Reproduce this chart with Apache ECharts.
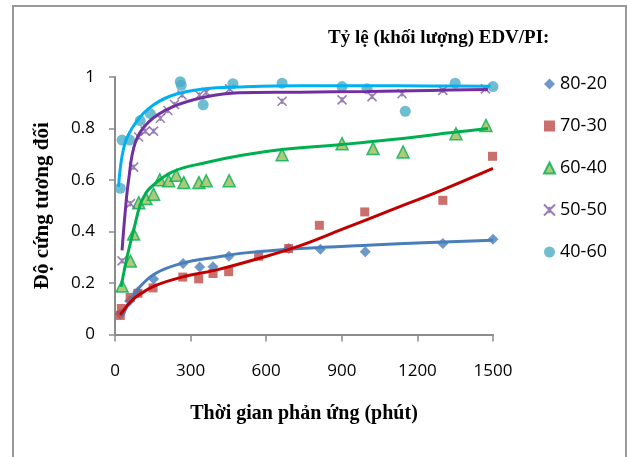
<!DOCTYPE html>
<html><head><meta charset="utf-8">
<script src="https://cdn.jsdelivr.net/npm/echarts@6/dist/echarts.min.js"></script>
<style>html,body{margin:0;padding:0;background:#fff}#c{width:627px;height:457px}</style>
</head><body><div id="c"></div>
<script>
// Series names
const seriesNames = ['80-20', '70-30', '60-40', '50-50', '40-60'];
// Measured points (x: minutes, y: relative hardness)
const x8020 = [21, 58, 90, 153, 270, 336, 389, 452, 689, 815, 993, 1301, 1500];
const y8020 = [0.08, 0.13, 0.165, 0.216, 0.276, 0.262, 0.263, 0.304, 0.334, 0.331, 0.321, 0.353, 0.370];
const x7030 = [21, 25, 60, 91, 151, 269, 332, 389, 451, 570, 689, 811, 991, 1301, 1498];
const y7030 = [0.074, 0.101, 0.144, 0.160, 0.181, 0.223, 0.216, 0.237, 0.244, 0.304, 0.334, 0.424, 0.476, 0.521, 0.692];
const x6040 = [28, 61, 74, 94, 123, 153, 178, 213, 243, 273, 333, 362, 453, 663, 901, 1024, 1143, 1353, 1472];
const y6040 = [0.188, 0.285, 0.39, 0.512, 0.528, 0.545, 0.601, 0.597, 0.618, 0.59, 0.59, 0.597, 0.597, 0.698, 0.741, 0.722, 0.709, 0.780, 0.812];
const x5050 = [28, 61, 74, 94, 120, 153, 180, 210, 236, 266, 335, 362, 455, 663, 901, 1020, 1139, 1301, 1470];
const y5050 = [0.286, 0.508, 0.65, 0.767, 0.79, 0.79, 0.84, 0.87, 0.893, 0.93, 0.93, 0.941, 0.954, 0.906, 0.911, 0.924, 0.935, 0.948, 0.954];
const x4060 = [21, 28, 58, 100, 140, 259, 263, 350, 468, 663, 901, 1000, 1152, 1350, 1500];
const y4060 = [0.568, 0.755, 0.755, 0.831, 0.858, 0.982, 0.968, 0.892, 0.974, 0.976, 0.963, 0.954, 0.867, 0.976, 0.963];
// Trend lines
const tx8020 = [28, 60, 94, 160, 268, 400, 517, 735, 1000, 1250, 1500];
const ty8020 = [0.07, 0.13, 0.18, 0.237, 0.277, 0.300, 0.317, 0.334, 0.347, 0.357, 0.366];
const tx7030 = [21, 60, 94, 160, 270, 400, 570, 735, 900, 1100, 1300, 1500];
const ty7030 = [0.076, 0.125, 0.153, 0.19, 0.224, 0.25, 0.295, 0.345, 0.408, 0.485, 0.562, 0.645];
const tx6040 = [24, 50, 74, 100, 120, 140, 226, 358, 504, 663, 900, 1100, 1353, 1480];
const ty6040 = [0.185, 0.31, 0.405, 0.505, 0.545, 0.57, 0.631, 0.667, 0.696, 0.718, 0.738, 0.757, 0.786, 0.80];
const tx5050 = [28, 40, 54, 81, 133, 226, 358, 491, 735, 1000, 1250, 1480];
const ty5050 = [0.327, 0.47, 0.6, 0.747, 0.825, 0.883, 0.922, 0.939, 0.941, 0.944, 0.948, 0.951];
const tx4060 = [14, 34, 67, 133, 226, 358, 491, 735, 1000, 1250, 1490];
const ty4060 = [0.573, 0.722, 0.80, 0.877, 0.928, 0.954, 0.961, 0.966, 0.966, 0.965, 0.964];

const zip = (xs, ys) => xs.map((x, i) => [x, ys[i]]);
const markerColors = ['#4a7ebb', '#be4b48', '#9bbb59', '#7d5fa0', '#4bacc6'];
const lineColors = ['#4a7ebb', '#c00000', '#00b050', '#7030a0', '#00b0f0'];
const starPath = 'path://M0,0L10,10M10,0L0,10M5,2L5,8';

const pts = [zip(x8020, y8020), zip(x7030, y7030), zip(x6040, y6040), zip(x5050, y5050), zip(x4060, y4060)];
const trends = [zip(tx8020, ty8020), zip(tx7030, ty7030), zip(tx6040, ty6040), zip(tx5050, ty5050), zip(tx4060, ty4060)];
const symbols = ['diamond', 'rect', 'triangle', starPath, 'circle'];
const symSizes = [11, 9, 12, 9, 11];

const series = [];
trends.forEach((d, i) => {
  series.push({ name: 'trend' + i, type: 'line', data: d, smooth: 0.4, showSymbol: false,
    lineStyle: { color: lineColors[i], width: 3 }, z: 3, silent: true });
});
pts.forEach((d, i) => {
  const st = { color: markerColors[i] };
  if (i === 2) { st.borderColor = '#00b050'; st.borderWidth = 1.5; }
  if (i === 3) { st.color = 'rgba(0,0,0,0)'; st.borderColor = markerColors[i]; st.borderWidth = 1.6; }
  series.push({ name: seriesNames[i], type: 'scatter', data: d, symbol: symbols[i], symbolSize: symSizes[i],
    itemStyle: st, z: 2 });
});

const chart = echarts.init(document.getElementById('c'), null, { renderer: 'canvas' });
chart.setOption({
  animation: false,
  backgroundColor: '#fff',
  graphic: [{ type: 'rect', shape: { x: 13, y: 6, width: 613, height: 470 },
    style: { fill: 'none', stroke: '#9a9a9a', lineWidth: 2 }, silent: true },
    { type: 'text', left: 328, top: 29, style: { text: 'Tỷ lệ (khối lượng) EDV/PI:', font: 'bold 19px "Liberation Serif", serif', fill: '#000' } }],
  grid: { left: 115, right: 134, top: 77, bottom: 122.5 },
  legend: {
    orient: 'vertical', left: 538, top: 70, itemGap: 24, itemWidth: 11, itemHeight: 11,
    data: seriesNames.map((n, i) => ({ name: n, icon: symbols[i] })),
    textStyle: { fontFamily: 'Open Sans', fontSize: 18, color: '#000' }
  },
  xAxis: {
    type: 'value', min: 0, max: 1500, interval: 300,
    name: 'Thời gian phản ứng (phút)', nameLocation: 'middle', nameGap: 69,
    nameTextStyle: { fontFamily: '"Liberation Serif", serif', fontWeight: 'bold', fontSize: 20, color: '#000' },
    axisLine: { lineStyle: { color: '#8c8c8c', width: 2 } },
    axisTick: { length: 7, lineStyle: { color: '#8c8c8c', width: 1.5 } },
    axisLabel: { margin: 28, fontFamily: 'Open Sans', fontSize: 17, color: '#000', formatter: v => String(v) },
    splitLine: { show: false }
  },
  yAxis: {
    type: 'value', min: 0, max: 1, interval: 0.2,
    name: 'Độ cứng tương đối', nameLocation: 'middle', nameGap: 62, nameRotate: 90,
    nameTextStyle: { fontFamily: '"Liberation Serif", serif', fontWeight: 'bold', fontSize: 21, color: '#000' },
    axisLine: { show: true, lineStyle: { color: '#8c8c8c', width: 2 } },
    axisTick: { show: true, length: 6, lineStyle: { color: '#8c8c8c', width: 1.5 } },
    axisLabel: { margin: 20, fontFamily: 'Open Sans', fontSize: 17, color: '#000' },
    splitLine: { show: false }
  },
  series: series
});
</script></body></html>
